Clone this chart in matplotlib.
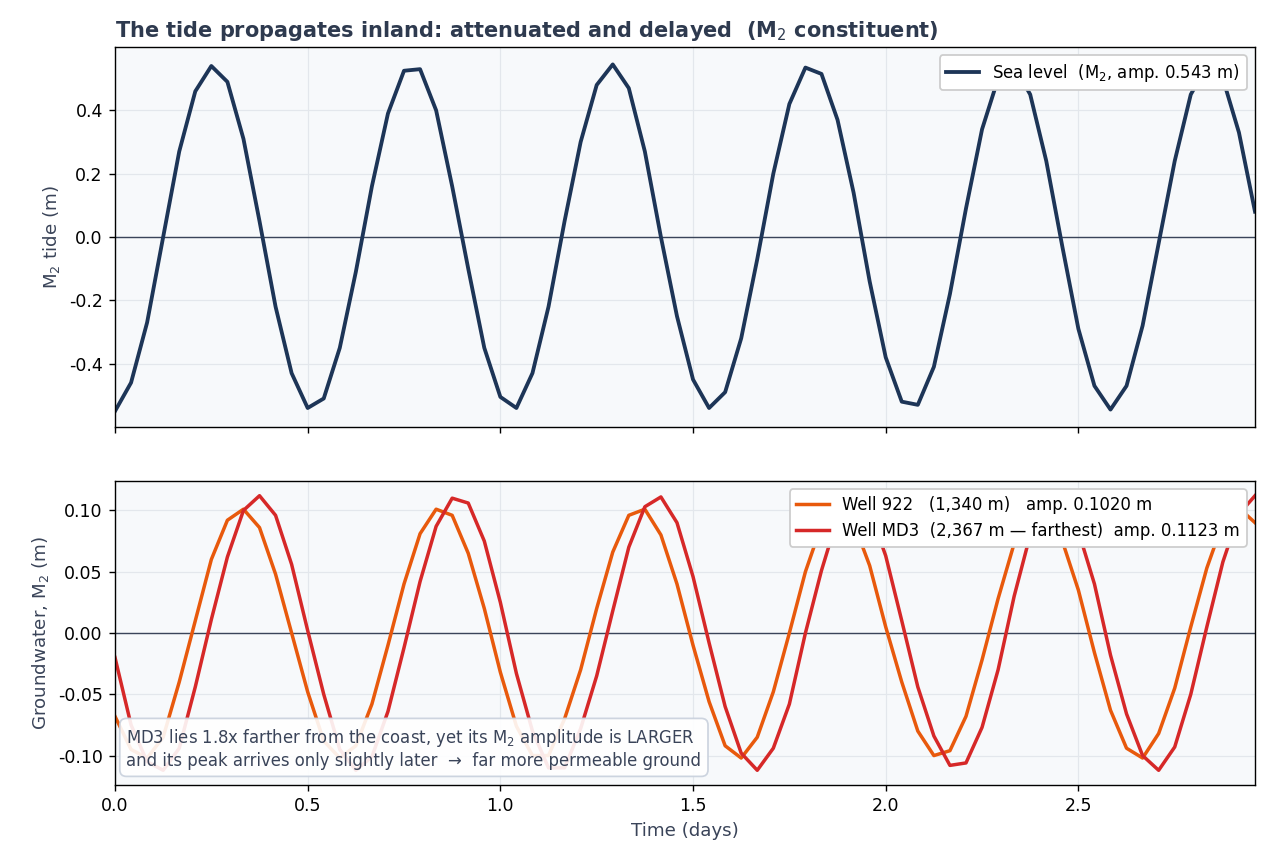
import matplotlib
matplotlib.use("Agg")
import matplotlib.pyplot as plt
from matplotlib.ticker import FuncFormatter

hours = list(range(72))
sea = [-0.55,-0.46,-0.27,0.0,0.27,0.46,0.54,0.49,0.31,0.05,-0.22,-0.43,-0.54,-0.51,-0.35,-0.11,0.16,0.39,0.525,0.53,
       0.40,0.16,-0.10,-0.35,-0.505,-0.54,-0.43,-0.22,0.05,0.30,0.48,0.545,0.47,0.27,0.0,-0.25,-0.45,-0.54,-0.49,-0.32,
       -0.07,0.20,0.42,0.535,0.515,0.37,0.14,-0.14,-0.38,-0.52,-0.53,-0.41,-0.18,0.09,0.34,0.50,0.54,0.45,0.24,-0.03,
       -0.29,-0.47,-0.545,-0.47,-0.28,-0.02,0.24,0.45,0.54,0.50,0.33,0.08]
w922 = [-0.068,-0.095,-0.102,-0.085,-0.04,0.01,0.06,0.092,0.101,0.086,0.048,0.0,-0.048,-0.088,-0.102,-0.092,-0.058,-0.01,0.04,0.081,
        0.101,0.096,0.065,0.02,-0.032,-0.076,-0.1,-0.1,-0.07,-0.03,0.02,0.066,0.096,0.101,0.08,0.04,-0.01,-0.056,-0.092,-0.102,
        -0.085,-0.048,0.0,0.05,0.088,0.102,0.09,0.055,0.005,-0.04,-0.08,-0.1,-0.096,-0.068,-0.022,0.028,0.073,0.099,0.1,0.075,
        0.035,-0.016,-0.063,-0.094,-0.102,-0.082,-0.045,0.005,0.053,0.09,0.102,0.09]
md3 = [-0.02,-0.075,-0.105,-0.112,-0.094,-0.044,0.011,0.062,0.1,0.112,0.096,0.056,0.002,-0.05,-0.095,-0.112,-0.101,-0.064,-0.012,0.042,
       0.087,0.11,0.106,0.075,0.025,-0.033,-0.08,-0.11,-0.11,-0.078,-0.035,0.018,0.07,0.103,0.111,0.09,0.046,-0.008,-0.06,-0.098,
       -0.112,-0.094,-0.058,0.0,0.051,0.094,0.112,0.1,0.063,0.01,-0.044,-0.084,-0.108,-0.106,-0.077,-0.03,0.03,0.08,0.108,0.11,
       0.083,0.04,-0.018,-0.066,-0.1,-0.112,-0.093,-0.05,0.005,0.058,0.097,0.112]
t = [h/24 for h in hours]

plt.rcParams['font.family'] = ['DejaVu Sans']
fig = plt.figure(figsize=(1269/125, 864/125), dpi=125)
ax1 = fig.add_axes([115/1269, 1-427/864, 1140/1269, 380/864])
ax2 = fig.add_axes([115/1269, 1-785/864, 1140/1269, 304/864], sharex=ax1)
for ax in (ax1, ax2):
    ax.set_facecolor("#f7f9fb")
    ax.grid(True, color="#e3e7ec", lw=0.7)
    ax.axhline(0, color="#3a4459", lw=0.8)
    ax.tick_params(labelsize=10)
ax1.plot(t, sea, color="#1d3557", lw=2.2, label="Sea level  (M$_2$, amp. 0.543 m)")
ax1.set_ylim(-0.6, 0.6)
ax1.set_yticks([-0.4, -0.2, 0.0, 0.2, 0.4])
ax1.yaxis.set_major_formatter(FuncFormatter(lambda v, p: f"{v:.1f}"))
ax1.set_ylabel("M$_2$ tide (m)", fontsize=10.5, color="#3a4459")
ax1.tick_params(labelbottom=False)
ax1.legend(loc="upper right", fontsize=9.5, framealpha=1, edgecolor="#cccccc")
ax1.set_title("The tide propagates inland: attenuated and delayed  (M$_2$ constituent)",
              loc="left", fontsize=12, fontweight="bold", color="#2e3a4f")
ax2.plot(t, w922, color="#e8590c", lw=2.0, label="Well 922   (1,340 m)   amp. 0.1020 m")
ax2.plot(t, md3, color="#d62828", lw=2.0, label="Well MD3  (2,367 m — farthest)  amp. 0.1123 m")
ax2.set_ylim(-0.124, 0.124)
ax2.set_yticks([-0.10, -0.05, 0.0, 0.05, 0.10])
ax2.yaxis.set_major_formatter(FuncFormatter(lambda v, p: f"{v:.2f}"))
ax2.set_ylabel("Groundwater, M$_2$ (m)", fontsize=10.5, color="#3a4459")
ax2.set_xlabel("Time (days)", fontsize=10.5, color="#3a4459")
ax2.set_xlim(0, 71/24)
ax2.set_xticks([0, 0.5, 1.0, 1.5, 2.0, 2.5])
ax2.legend(loc="upper right", fontsize=9.5, framealpha=1, edgecolor="#cccccc")
ax2.text(0.01, 0.05, "MD3 lies 1.8x farther from the coast, yet its M$_2$ amplitude is LARGER\n"
         "and its peak arrives only slightly later  →  far more permeable ground",
         transform=ax2.transAxes, fontsize=9.5, color="#3a4459", va="bottom",
         bbox=dict(boxstyle="round,pad=0.4", fc="white", ec="#c8d0dc", alpha=0.9))
fig.savefig("out.png", dpi=125)
